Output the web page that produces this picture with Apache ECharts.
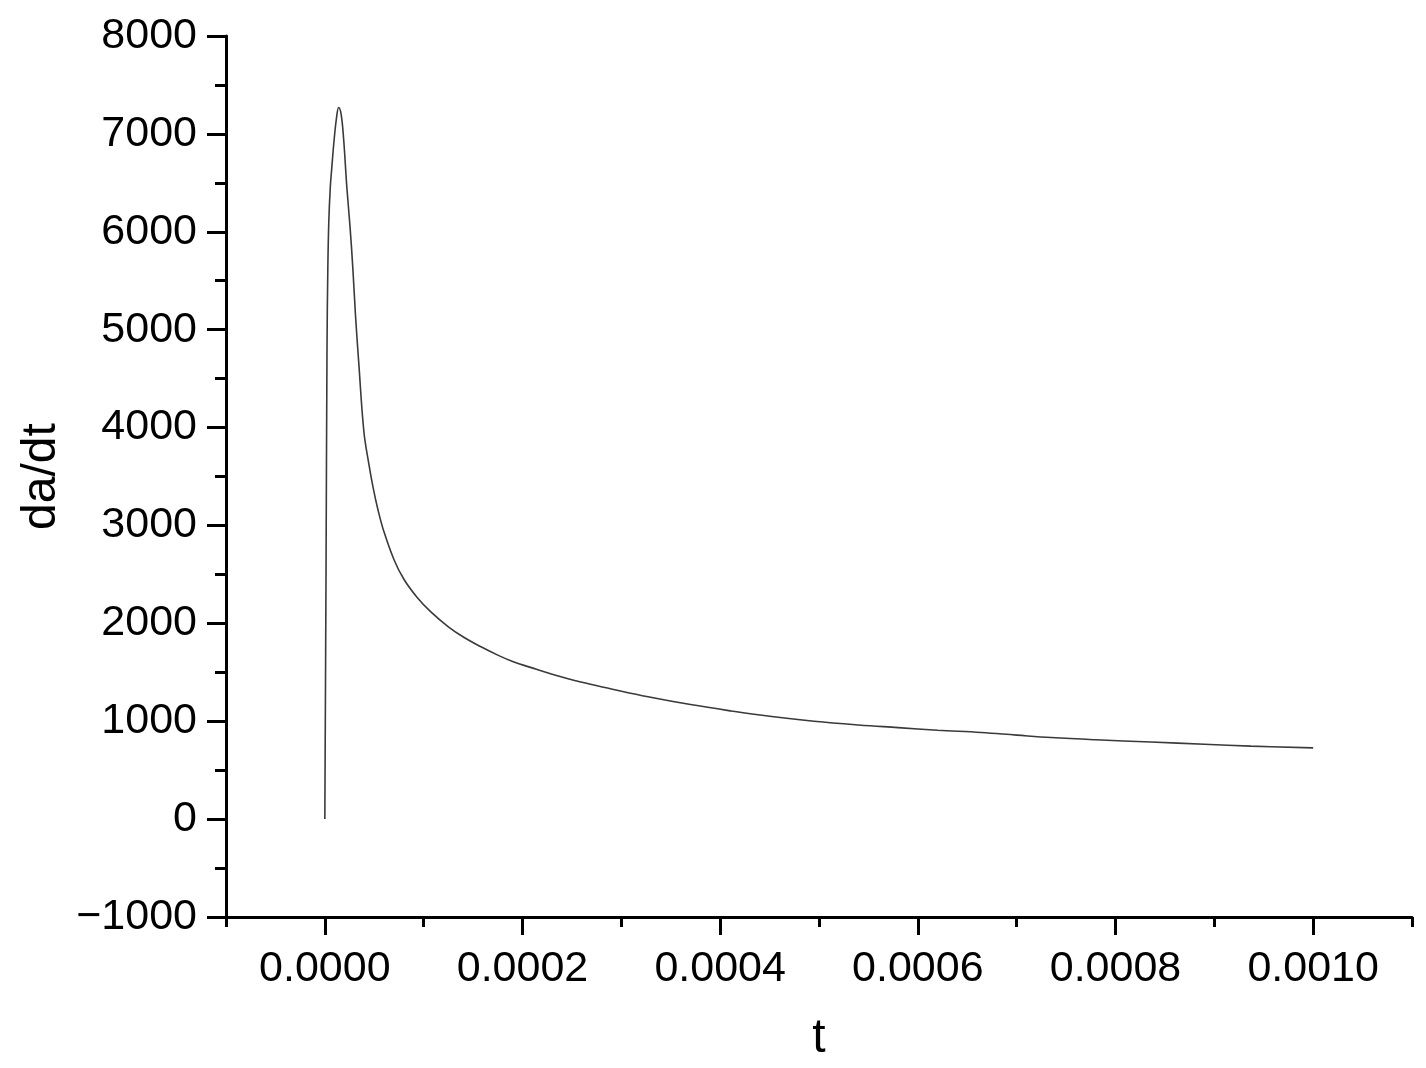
<!DOCTYPE html>
<html>
<head>
<meta charset="utf-8">
<script src="https://cdn.jsdelivr.net/npm/echarts@6/dist/echarts.min.js"></script>
<style>
html,body{margin:0;padding:0;background:#fff;}
#chart{width:1426px;height:1068px;}
</style>
</head>
<body>
<div id="chart"></div>
<script>
// time (s)
var tValues=[0,0.0000012,0.0000022,0.000003,0.000004,0.0000055,0.000007,0.0000095,0.000012,0.000014,
	0.0000165,0.000019,0.0000223,0.0000255,0.0000285,0.000031,0.0000344,0.0000395,0.000044,0.0000486,
	0.000054,0.00006,0.00007,0.00008,0.000093,0.000107,0.000125,0.000141,0.000158,0.000175,
	0.00019,0.000208,0.00023,0.000259,0.00029,0.000327,0.00037,0.000411,0.00045,0.000495,
	0.00054,0.00058,0.00062,0.000664,0.0007,0.000735,0.00078,0.000836,0.00089,0.000937,0.001];
// da/dt at those times
var rateValues=[0,2500,4800,5600,6100,6450,6650,6950,7180,7270,
	7200,6950,6450,6050,5600,5150,4650,3960,3660,3400,
	3150,2930,2650,2450,2270,2120,1965,1855,1760,1675,
	1610,1550,1480,1400,1330,1250,1170,1105,1050,1000,
	962,935,908,885,858,833,810,787,765,746,728];
var xMajorTicks=[0,0.0002,0.0004,0.0006,0.0008,0.001];

function loadChart(){
	var myChart=echarts.init(document.getElementById('chart'));
	var pts=[];
	for(var i=0;i<tValues.length;i++){
		pts.push([tValues[i],rateValues[i]]);
	}
	var font='Liberation Sans';
	var option={
		animation:false,
		grid:{left:226,right:14,top:36,bottom:149,containLabel:false},
		xAxis:[
			{
				type:'value',
				min:-0.0001,
				max:0.0011,
				interval:0.0001,
				name:'t',
				nameLocation:'middle',
				nameGap:98,
				nameTextStyle:{fontFamily:font,fontSize:48,color:'#000'},
				axisLine:{show:true,onZero:false,lineStyle:{color:'#000',width:3}},
				axisTick:{show:true,inside:false,length:10,lineStyle:{color:'#000',width:3}},
				axisLabel:{
					margin:31,fontFamily:font,fontSize:43,color:'#000',
					formatter:function(v){
						var k=Math.round(v*10000);
						if(k<0||k%2!=0) return '';
						return (k/10000).toFixed(4);
					}
				},
				splitLine:{show:false}
			},
			{
				type:'value',
				min:-0.0001,
				max:0.0011,
				position:'bottom',
				axisLine:{show:false,onZero:false},
				axisTick:{show:true,inside:false,length:18,customValues:xMajorTicks,lineStyle:{color:'#000',width:3}},
				axisLabel:{show:false},
				splitLine:{show:false}
			}
		],
		yAxis:{
			type:'value',
			min:-1000,
			max:8000,
			interval:1000,
			name:'da/dt',
			nameLocation:'middle',
			nameRotate:90,
			nameGap:160,
			nameTextStyle:{fontFamily:font,fontSize:48,color:'#000'},
			axisLine:{show:true,onZero:false,lineStyle:{color:'#000',width:3}},
			axisTick:{show:true,inside:false,length:19,lineStyle:{color:'#000',width:3}},
			minorTick:{show:true,splitNumber:2,length:11,lineStyle:{color:'#000',width:3}},
			axisLabel:{
				margin:29,fontFamily:font,fontSize:43,color:'#000',
				formatter:function(v){return String(v).replace('-','\u2212');}
			},
			splitLine:{show:false}
		},
		series:[
			{
				name:'da/dt',
				type:'line',
				xAxisIndex:0,
				data:pts,
				showSymbol:false,
				smooth:0.4,
				lineStyle:{color:'#3a3a3a',width:1.6}
			}
		]
	};
	myChart.setOption(option);
}
loadChart();
</script>
</body>
</html>
